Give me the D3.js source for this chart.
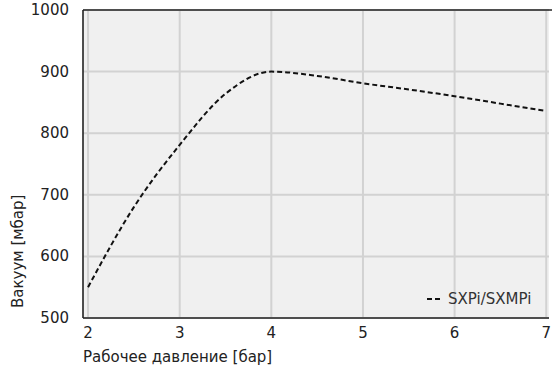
<!DOCTYPE html>
<html>
<head>
<meta charset="utf-8">
<script src="https://d3js.org/d3.v7.min.js"></script>
<style>
    body { margin: 0; background: #fff; }
    text { font-family: "DejaVu Sans", sans-serif; fill: #222; }
</style>
</head>
<body>
<svg id="chart"></svg>
<script>
    // values
    var pressure = [2, 2.5, 3, 3.5, 4, 4.5, 5, 5.5, 6, 6.5, 7];
    var vacuum = [550, 680, 781, 864, 900, 893, 881, 871, 860, 848, 836];
    var xTicks = [2, 3, 4, 5, 6, 7];
    var yTicks = [500, 600, 700, 800, 900, 1000];
    var seriesName = "SXPi/SXMPi";

    var W = 552, H = 371;
    var margin = { top: 10, right: 3, bottom: 53, left: 83 };
    var width = W - margin.left - margin.right,
        height = H - margin.top - margin.bottom;

    var svg = d3.select("#chart").attr("width", W).attr("height", H);
    var g = svg.append("g").attr("transform", "translate(" + margin.left + "," + margin.top + ")");

    var x = d3.scaleLinear().domain([1.945, 7.03]).range([0, width]);
    var y = d3.scaleLinear().domain([500, 1000]).range([height, 0]);

    g.append("rect").attr("width", width).attr("height", height).attr("fill", "#f0f0f0");

    // grid
    g.selectAll(".vgrid").data(xTicks).enter().append("line")
        .attr("x1", d => x(d)).attr("x2", d => x(d))
        .attr("y1", 0).attr("y2", height)
        .attr("stroke", "#d2d2d2").attr("stroke-width", 2);
    g.selectAll(".hgrid").data(yTicks).enter().append("line")
        .attr("x1", 0).attr("x2", width)
        .attr("y1", d => y(d)).attr("y2", d => y(d))
        .attr("stroke", "#d2d2d2").attr("stroke-width", 2);

    // frame: left, bottom, top
    g.append("line").attr("x1", 0).attr("x2", 0).attr("y1", 0).attr("y2", height)
        .attr("stroke", "#222").attr("stroke-width", 1.6);
    g.append("line").attr("x1", 0).attr("x2", width).attr("y1", height).attr("y2", height)
        .attr("stroke", "#222").attr("stroke-width", 1.6);
    g.append("line").attr("x1", 0).attr("x2", width + margin.right).attr("y1", 0).attr("y2", 0)
        .attr("stroke", "#222").attr("stroke-width", 1.6);

    // tick labels
    g.selectAll(".xt").data(xTicks).enter().append("text")
        .attr("x", d => x(d)).attr("y", height + 20)
        .attr("text-anchor", "middle").attr("font-size", 15)
        .text(d => d);
    g.selectAll(".yt").data(yTicks).enter().append("text")
        .attr("x", -14).attr("y", d => y(d) + 5)
        .attr("text-anchor", "end").attr("font-size", 15)
        .text(d => d);

    // axis titles
    g.append("text").attr("x", 0).attr("y", height + 44)
        .attr("font-size", 15).text("Рабочее давление [бар]");
    g.append("text").attr("transform", "translate(-60," + (height - 10) + ") rotate(-90)")
        .attr("font-size", 15).text("Вакуум [мбар]");

    // line
    var data = pressure.map((p, i) => ({ p: p, v: vacuum[i] }));
    g.append("path").datum(data)
        .attr("fill", "none").attr("stroke", "#111").attr("stroke-width", 2)
        .attr("stroke-dasharray", "5,3")
        .attr("d", d3.line().x(d => x(d.p)).y(d => y(d.v)).curve(d3.curveMonotoneX));

    // legend
    var lg = g.append("g").attr("transform", "translate(" + (width - 122) + "," + (height - 19) + ")");
    lg.append("line").attr("x1", 0).attr("x2", 13).attr("y1", 0).attr("y2", 0)
        .attr("stroke", "#111").attr("stroke-width", 2).attr("stroke-dasharray", "5,3");
    lg.append("text").attr("x", 21).attr("y", 5).attr("font-size", 15)
        .style("fill", "#333").text(seriesName);
</script>
</body>
</html>
